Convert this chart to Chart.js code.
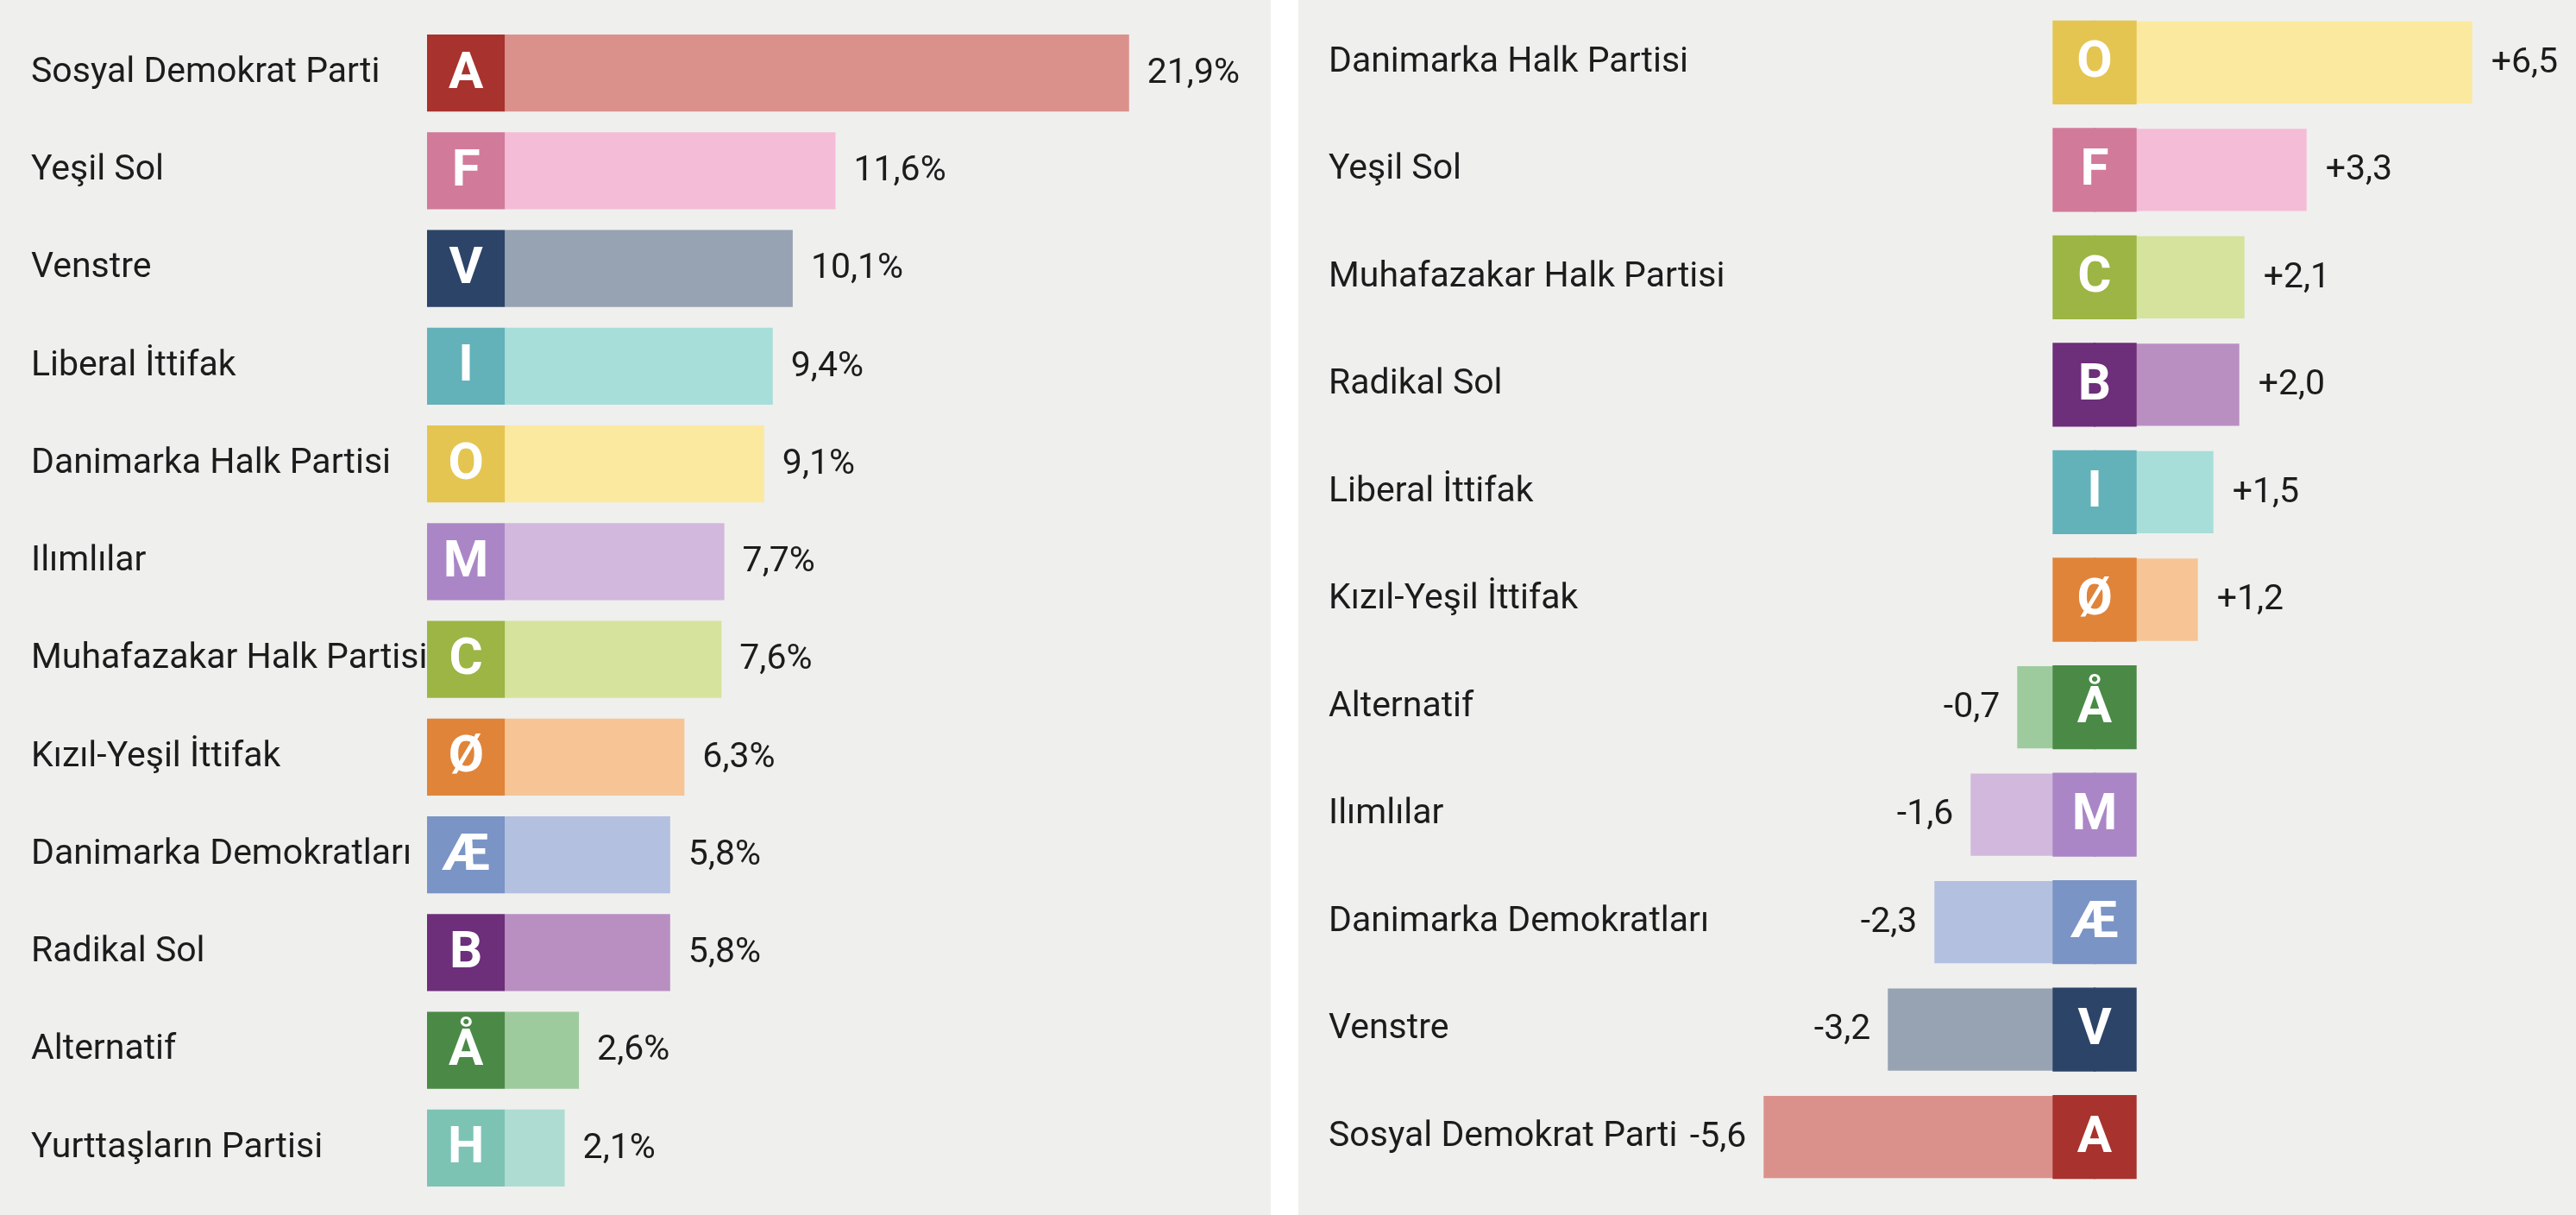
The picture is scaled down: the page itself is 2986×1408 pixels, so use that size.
<!DOCTYPE html>
<html>
<head>
<meta charset="utf-8">
<script src="https://cdn.jsdelivr.net/npm/chart.js@4.4.1/dist/chart.umd.min.js"></script>
<style>
  html, body { margin: 0; padding: 0; background: #ffffff; }
  body { width: 2986px; height: 1408px; position: relative; overflow: hidden; }
  .panel { position: absolute; top: 0; height: 1408px; background: #efefed; }
  #pl { left: 0; width: 1473px; }
  #pr { left: 1505px; width: 1481px; }
  canvas { display: block; }
</style>
</head>
<body>
<div class="panel" id="pl"><canvas id="cl" width="1473" height="1408"></canvas></div>
<div class="panel" id="pr"><canvas id="cr" width="1481" height="1408"></canvas></div>
<script>
// ---- Data: vote share (left panel) ----
const leftCategories = ['Sosyal Demokrat Parti','Yeşil Sol','Venstre','Liberal İttifak','Danimarka Halk Partisi','Ilımlılar','Muhafazakar Halk Partisi','Kızıl-Yeşil İttifak','Danimarka Demokratları','Radikal Sol','Alternatif','Yurttaşların Partisi'];
const leftLetters = ['A','F','V','I','O','M','C','Ø','Æ','B','Å','H'];
const leftValues = [21.9, 11.6, 10.1, 9.4, 9.1, 7.7, 7.6, 6.3, 5.8, 5.8, 2.6, 2.1];

// ---- Data: change (right panel) ----
const rightCategories = ['Danimarka Halk Partisi','Yeşil Sol','Muhafazakar Halk Partisi','Radikal Sol','Liberal İttifak','Kızıl-Yeşil İttifak','Alternatif','Ilımlılar','Danimarka Demokratları','Venstre','Sosyal Demokrat Parti'];
const rightLetters = ['O','F','C','B','I','Ø','Å','M','Æ','V','A'];
const rightValues = [6.5, 3.3, 2.1, 2.0, 1.5, 1.2, -0.7, -1.6, -2.3, -3.2, -5.6];

// ---- Styles ----
const darkColor = {A:'#a8322d',F:'#d27a9a',V:'#2c4468',I:'#63b2ba',O:'#e5c552',M:'#ab86c6',C:'#9cb545',
  'Ø':'#e0843a','Æ':'#7a94c6',B:'#6d2e7a','Å':'#4a8a46',H:'#7dc3b4'};
const lightColor = {A:'#db918b',F:'#f4bcd6',V:'#97a3b3',I:'#a8ded9',O:'#fbe9a0',M:'#d1b8dc',C:'#d5e39c',
  'Ø':'#f6c495','Æ':'#b3c0e0',B:'#b98fc2','Å':'#9ecb9e',H:'#aedcd2'};
const FONT = 'Roboto, "Liberation Sans", sans-serif';
const TEXT = '#1c1c1c';
const BADGE_L = 2.73;   // badge width in left-scale units
const BADGE_R = 1.59;   // badge width in right-scale units

const fmt = v => v.toFixed(1).replace('.', ',');

function drawBadgeLetter(ctx, letter, cx, cy) {
  ctx.save();
  ctx.fillStyle = '#ffffff';
  ctx.font = 'bold 60px ' + FONT;
  ctx.textAlign = 'center';
  ctx.textBaseline = 'middle';
  ctx.fillText(letter, cx, cy + 2);
  ctx.restore();
}

function fixAxis(width) {
  return function (s) { s.width = width; s.paddingTop = 0; s.paddingBottom = 0; };
}

// ---- Left chart ----
const leftPlugin = {
  id: 'leftLabels',
  afterDatasetsDraw(chart) {
    const ctx = chart.ctx;
    const badgeMeta = chart.getDatasetMeta(0);
    const valMeta = chart.getDatasetMeta(1);
    badgeMeta.data.forEach((el, i) => {
      drawBadgeLetter(ctx, leftLetters[i], (el.base + el.x) / 2, el.y);
    });
    ctx.save();
    ctx.fillStyle = TEXT;
    ctx.font = '41px ' + FONT;
    ctx.textAlign = 'left';
    ctx.textBaseline = 'middle';
    valMeta.data.forEach((el, i) => {
      ctx.fillText(fmt(leftValues[i]) + '%', el.x + 21, el.y + 1);
    });
    ctx.restore();
  }
};

new Chart(document.getElementById('cl'), {
  type: 'bar',
  data: {
    labels: leftCategories,
    datasets: [
      { data: leftCategories.map(() => BADGE_L), backgroundColor: leftLetters.map(l => darkColor[l]), borderWidth: 0 },
      { data: leftValues, backgroundColor: leftLetters.map(l => lightColor[l]), borderWidth: 0 }
    ]
  },
  options: {
    indexAxis: 'y',
    responsive: false,
    animation: false,
    layout: { padding: { left: 36, top: 28, bottom: 21, right: 0 } },
    datasets: { bar: { categoryPercentage: 1, barPercentage: 0.79 } },
    plugins: { legend: { display: false }, tooltip: { enabled: false } },
    scales: {
      x: { stacked: true, display: false, min: 0, max: 29.6 },
      y: {
        stacked: true,
        grid: { display: false },
        border: { display: false },
        ticks: { crossAlign: 'far', padding: 0, color: TEXT, font: { family: FONT, size: 41 } },
        afterFit: fixAxis(459)
      }
    }
  },
  plugins: [leftPlugin]
});

// ---- Right chart ----
const rightPlugin = {
  id: 'rightLabels',
  afterDatasetsDraw(chart) {
    const ctx = chart.ctx;
    const x0 = chart.scales.x.getPixelForValue(0);
    const valMeta = chart.getDatasetMeta(2);
    valMeta.data.forEach((el, i) => {
      drawBadgeLetter(ctx, rightLetters[i], x0, el.y);
    });
    ctx.save();
    ctx.fillStyle = TEXT;
    ctx.font = '41px ' + FONT;
    ctx.textBaseline = 'middle';
    valMeta.data.forEach((el, i) => {
      const v = rightValues[i];
      if (v >= 0) {
        ctx.textAlign = 'left';
        ctx.fillText('+' + fmt(v), el.x + 22, el.y + 1);
      } else {
        ctx.textAlign = 'right';
        ctx.fillText(fmt(v), el.x - 20, el.y + 1);
      }
    });
    ctx.restore();
  }
};

new Chart(document.getElementById('cr'), {
  type: 'bar',
  data: {
    labels: rightCategories,
    datasets: [
      { data: rightCategories.map(() => BADGE_R / 2), backgroundColor: rightLetters.map(l => darkColor[l]), borderWidth: 0, inflateAmount: 1 },
      { data: rightCategories.map(() => -BADGE_R / 2), backgroundColor: rightLetters.map(l => darkColor[l]), borderWidth: 0, inflateAmount: 1 },
      { data: rightValues, backgroundColor: rightLetters.map(l => lightColor[l]), borderWidth: 0 }
    ]
  },
  options: {
    indexAxis: 'y',
    responsive: false,
    animation: false,
    layout: { padding: { left: 35, top: 10, bottom: 28, right: 0 } },
    datasets: { bar: { categoryPercentage: 1, barPercentage: 0.765 } },
    plugins: { legend: { display: false }, tooltip: { enabled: false } },
    scales: {
      x: { stacked: true, display: false, min: -6.8833, max: 9.3 },
      y: {
        stacked: true,
        grid: { display: false },
        border: { display: false },
        ticks: { crossAlign: 'far', padding: 0, color: TEXT, font: { family: FONT, size: 41 } },
        afterFit: fixAxis(475)
      }
    }
  },
  plugins: [rightPlugin]
});
</script>
</body>
</html>
